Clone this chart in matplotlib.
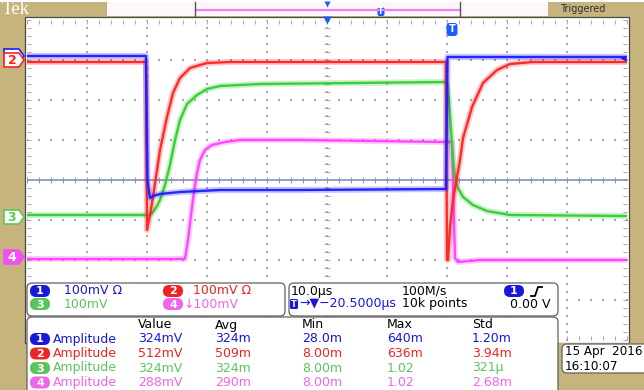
import numpy as np
import matplotlib.pyplot as plt
from matplotlib.patches import Rectangle, FancyBboxPatch, Polygon

# waveform breakpoints: time in us (10 us/div), level in divisions
t_ch1 = [-50, -30.17, -29.92, -29.5, -29.0, -27.83, -24.5, -17.83, -4.5, 19.83, 20.08, 50]
v_ch1 = [3.1, 3.1, 0.0, -0.45, -0.4, -0.35, -0.3, -0.25, -0.25, -0.225, 3.075, 3.075]

t_ch2 = [-50, -30.17, -30.0, -29.5, -29.0, -28.33, -27.83, -26.67, -25.67, -24.5, -22.83,
         -20.0, -16.17, 19.83, 20.0, 20.17, 20.5, 21.0, 21.67, 22.17, 22.67, 24.17, 26.0,
         28.33, 30.5, 34.33, 50]
v_ch2 = [2.95, 2.95, -1.25, -0.875, -0.425, 0.25, 0.75, 1.575, 2.175, 2.55, 2.8,
         2.925, 2.95, 2.95, -2.0, -2.0, -1.175, -0.5, 0.075, 0.5, 1.05, 1.825, 2.425,
         2.75, 2.9, 2.95, 2.95]

t_ch3 = [-50, -29.5, -29.0, -28.33, -27.83, -27.0, -26.17, -25.33, -24.5, -23.33, -21.67,
         -20.0, -17.83, -11.17, 19.67, 20.0, 20.33, 20.67, 21.0, 21.33, 21.83, 22.67, 24.33,
         26.67, 30.5, 50]
v_ch3 = [-0.875, -0.875, -0.8, -0.65, -0.5, -0.125, 0.375, 1.0, 1.5, 1.9, 2.125,
         2.275, 2.35, 2.4, 2.45, 2.4, 2.0, 1.25, 0.5, 0.05, -0.2, -0.425, -0.625,
         -0.775, -0.875, -0.9]

t_ch4 = [-50, -23.67, -23.17, -22.67, -22.17, -21.67, -21.17, -20.33, -19.17, -17.0, -14.5,
         -4.5, 19.83, 20.83, 21.33, 21.83, 25.5, 50]
v_ch4 = [-1.975, -1.975, -1.5, -0.875, -0.3, 0.175, 0.5, 0.75, 0.875, 0.95, 1.0,
         1.0, 0.95, 0.95, -1.95, -2.05, -2.0, -2.0]

# readouts
vert_scales = ['100mV \u03a9', '100mV \u03a9', '100mV', '\u2193100mV']
meas_cols = ['Value', 'Avg', 'Min', 'Max', 'Std']
meas_rows = [['324mV', '324m', '28.0m', '640m', '1.20m'],
             ['512mV', '509m', '8.00m', '636m', '3.94m'],
             ['324mV', '324m', '8.00m', '1.02', '321\u00b5'],
             ['288mV', '290m', '8.00m', '1.02', '2.68m']]

KHAKI = '#c6b47c'
TRACE = ['#1c1cff', '#ff2222', '#33cc33', '#ff40ff']
TEXTC = ['#1818dc', '#ec2424', '#5cc45c', '#f064f0']

fig = plt.figure(figsize=(6.44, 3.9), dpi=100)
fig.patch.set_facecolor(KHAKI)

# pixel-space layer behind the graticule
bg = fig.add_axes([0, 0, 1, 1])
bg.set_xlim(0, 644)
bg.set_ylim(390, 0)
bg.axis('off')
bg.add_patch(Rectangle((0, 0), 644, 2, fc='white', ec='none'))
bg.add_patch(Rectangle((25, 17), 604, 326, fc='white', ec='#4a4a4a', lw=0.9))
bg.text(2, 9.5, 'Tek', color='white', fontsize=13.5, va='center', family='Liberation Serif')
bg.add_patch(Rectangle((107, 2), 441, 14, fc='#fdf6fb', ec='none'))
bg.plot([196, 460], [9.5, 9.5], color='#f080f0', lw=1.6)
bg.plot([195, 195], [2, 16], color='#555555', lw=1)
bg.plot([460, 460], [2, 16], color='#555555', lw=1)
bg.plot([327], [3.5], marker='v', ms=5, color='#1c5cff', mec='none')
bg.add_patch(FancyBboxPatch((377.5, 7), 7, 9, boxstyle='round,pad=0,rounding_size=2',
                            fc='#1c5cff', ec='none'))
bg.text(381, 11.5, 'T', color='white', fontsize=5.5, ha='center', va='center', weight='bold')
bg.text(560, 9.5, 'Triggered', color='#303030', fontsize=7, va='center')

# graticule and traces
ax = fig.add_axes([27 / 644, 50 / 390, 600 / 644, 320 / 390])
ax.set_xlim(-50, 50)
ax.set_ylim(-4, 4)
ax.patch.set_alpha(0)
for s in ax.spines.values():
    s.set_visible(False)
ax.set_xticks(np.arange(-50, 51, 2), minor=True)
ax.set_yticks(np.arange(-4, 4.01, 0.2), minor=True)
ax.set_xticks([])
ax.set_yticks([])
ax.tick_params(which='minor', direction='in', length=3, color='#9a9a9a',
               top=True, right=True, labelbottom=False, labelleft=False)

gx, gy = np.meshgrid(np.arange(-40, 41, 10), np.arange(-4, 4.01, 0.2))
ax.scatter(gx.ravel(), gy.ravel(), s=1.2, marker='s', color='#a8a8a8', lw=0)
hx, hy = np.meshgrid(np.arange(-50, 51, 2), np.arange(-3, 4, 1))
ax.scatter(hx.ravel(), hy.ravel(), s=1.2, marker='s', color='#a8a8a8', lw=0)
ax.axhline(0, color='#8c98c4', lw=1.3)
tk = np.arange(-50, 51, 2)
ax.vlines(tk, -0.08, 0.08, color='#8c98c4', lw=0.8)
tv = np.arange(-4, 4.01, 0.2)
ax.hlines(tv, -0.45, 0.45, color='#a8a8a8', lw=0.8)

for t, v, c in zip([t_ch4, t_ch3, t_ch2, t_ch1], [v_ch4, v_ch3, v_ch2, v_ch1],
                   [TRACE[3], TRACE[2], TRACE[1], TRACE[0]]):
    ax.plot(t, v, color=c, lw=4.4, alpha=0.25, solid_joinstyle='round')
    ax.plot(t, v, color=c, lw=1.7, alpha=0.95, solid_joinstyle='round')

# overlay: markers, readout boxes
ov = fig.add_axes([0, 0, 1, 1])
ov.set_xlim(0, 644)
ov.set_ylim(390, 0)
ov.axis('off')
ov.patch.set_alpha(0)

ov.plot([327], [20], marker='v', ms=6, color='#1c5cff', mec='none')
ov.add_patch(FancyBboxPatch((446.5, 23), 11, 13, boxstyle='round,pad=0,rounding_size=3',
                            fc='#1c5cff', ec='none'))
ov.text(452, 29.5, 'T', color='white', fontsize=7, ha='center', va='center', weight='bold')
ov.plot([623], [58], marker='<', ms=5, color=TRACE[0], mec='none')


def chan_marker(y, num, col, filled):
    pts = [(4, y - 7), (19, y - 7), (24, y), (19, y + 7), (4, y + 7)]
    ov.add_patch(Polygon(pts, closed=True, fc=col if filled else 'white', ec=col, lw=1.2))
    ov.text(12, y + 0.5, num, color='white' if filled else col, fontsize=9,
            weight='bold', ha='center', va='center')


chan_marker(56, '', TRACE[0], False)
chan_marker(60, '2', TRACE[1], False)
chan_marker(217, '3', '#55cc55', False)
chan_marker(257, '4', '#f050f0', True)


def pill(x, y, num, col, w=20, h=12):
    ov.add_patch(FancyBboxPatch((x, y - h / 2), w, h, boxstyle='round,pad=0,rounding_size=6',
                                fc=col, ec='none'))
    ov.text(x + w / 2, y + 0.5, num, color='white', fontsize=8, weight='bold',
            ha='center', va='center')


def rbox(x, y, w, h):
    ov.add_patch(FancyBboxPatch((x, y), w, h, boxstyle='round,pad=0,rounding_size=5',
                                fc='white', ec='#606060', lw=0.9))


rbox(27, 283, 258, 33)
rbox(289, 283, 269, 33)
rbox(27, 317, 531, 80)
ov.add_patch(Rectangle((559, 343), 85, 47, fc=KHAKI, ec='none'))
rbox(562, 344, 90, 29)

fs = 9
# vertical settings
pill(30, 291, '1', TEXTC[0])
ov.text(64, 291, vert_scales[0], color=TEXTC[0], fontsize=fs, va='center')
pill(163, 291, '2', TEXTC[1])
ov.text(193, 291, vert_scales[1], color=TEXTC[1], fontsize=fs, va='center')
pill(30, 304, '3', TEXTC[2])
ov.text(64, 304, vert_scales[2], color=TEXTC[2], fontsize=fs, va='center')
pill(163, 304, '4', TEXTC[3])
ov.text(183, 304, vert_scales[3], color=TEXTC[3], fontsize=fs, va='center')

# horizontal / trigger settings
ov.text(291, 291, '10.0\u00b5s', color='black', fontsize=fs, va='center')
ov.text(402, 291, '100M/s', color='black', fontsize=fs, va='center')
pill(504, 291, '1', TEXTC[0])
ov.plot([531, 535, 538, 542], [296, 296, 287, 287], color='black', lw=1.3)
ov.add_patch(FancyBboxPatch((290, 299), 8, 10, boxstyle='round,pad=0,rounding_size=1.5',
                            fc=TEXTC[0], ec='none'))
ov.text(294, 304.5, 'T', color='white', fontsize=6, weight='bold', ha='center', va='center')
ov.text(299, 304, '\u2192\u25bc\u221220.5000\u00b5s', color=TEXTC[0], fontsize=fs, va='center')
ov.text(402, 304, '10k points', color='black', fontsize=fs, va='center')
ov.text(551, 304, '0.00 V', color='black', fontsize=fs, va='center', ha='right')

# measurement table
col_x = [138, 215, 302, 387, 472]
for cx, name in zip(col_x, meas_cols):
    ov.text(cx, 325, name, color='black', fontsize=fs, va='center')
for i, row in enumerate(meas_rows):
    y = 339 + i * 14.5
    pill(30, y, str(i + 1), TEXTC[i])
    ov.text(53, y, 'Amplitude', color=TEXTC[i], fontsize=fs, va='center')
    for cx, val in zip(col_x, row):
        ov.text(cx, y, val, color=TEXTC[i], fontsize=fs, va='center')

# date
ov.text(565, 352, '15 Apr  2016', color='black', fontsize=8.6, va='center')
ov.text(565, 366, '16:10:07', color='black', fontsize=8.6, va='center')

fig.savefig('out.png', dpi=100, facecolor=KHAKI)
